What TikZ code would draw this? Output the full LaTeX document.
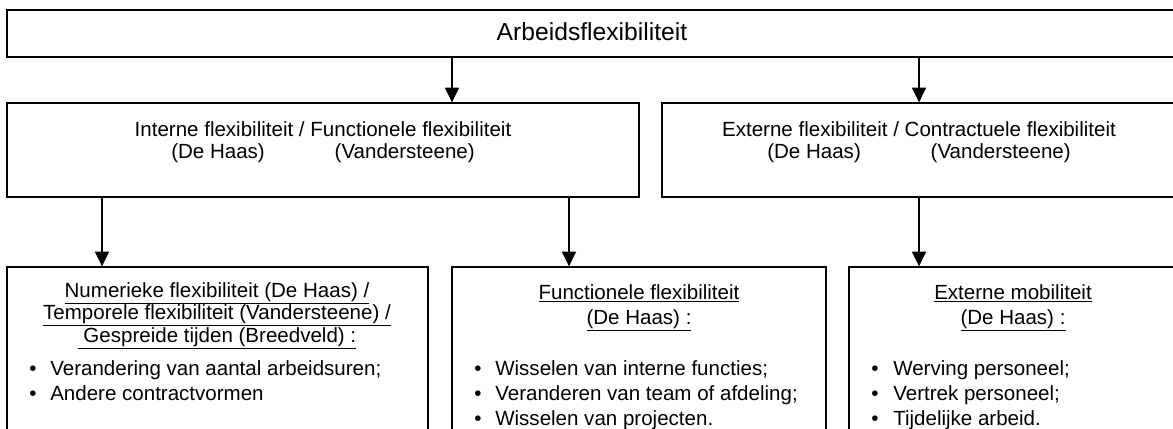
\documentclass[tikz,border=0pt]{standalone}
\usepackage{fontspec}
\setmainfont{Liberation Sans}
\usetikzlibrary{arrows.meta,fit}
\begin{document}
\begin{tikzpicture}[x=0.75pt,y=-0.75pt,
  box/.style={draw=black,line width=1pt,inner sep=0pt},
  arr/.style={line width=1pt,-{Triangle[width=10.5pt,length=11pt]}},
  body/.style={font=\fontsize{15.4}{17.7}\selectfont,anchor=base,inner sep=0pt},
  item/.style={body,anchor=base west},
  titletext/.style={font=\fontsize{18.5}{22}\selectfont,anchor=base,inner sep=0pt}]
\useasboundingbox (0,0) rectangle (1173,428);
\fill[white] (0,0) rectangle (1173,428);
\clip (0,0) rectangle (1173,428);
% boxes
\node[box,fit={(7,10) (1177,57)}] (top) {};
\node[box,fit={(7,103) (639,197)}] (midL) {};
\node[box,fit={(662,103) (1177,197)}] (midR) {};
\node[box,fit={(7,267) (428,470)}] (botL) {};
\node[box,fit={(452,267) (826,470)}] (botM) {};
\node[box,fit={(849,267) (1177,470)}] (botR) {};
% texts
\node[titletext] (t0) at (592,41) {Arbeidsflexibiliteit};
\node[body] (tL1) at (323,136) {Interne flexibiliteit / Functionele flexibiliteit};
\node[body] (tL2) at (323,158) {(De Haas)\hspace{3.4em}(Vandersteene)};
\node[body] (tR1) at (919,136) {Externe flexibiliteit / Contractuele flexibiliteit};
\node[body] (tR2) at (919,158) {(De Haas)\hspace{3.4em}(Vandersteene)};
% bottom left
\node[body] (hL1) at (217,297) {\underline{Numerieke flexibiliteit (De Haas) /}};
\node[body] (hL2) at (217,319.5) {\underline{Temporele flexibiliteit (Vandersteene) /}};
\node[body] (hL3) at (217,342) {\underline{\ Gespreide tijden (Breedveld) :}};
\node[body] (dL1) at (33,375) {\textbullet};
\node[item] (iL1) at (50,375) {Verandering van aantal arbeidsuren;};
\node[body] (dL2) at (33,400) {\textbullet};
\node[item] (iL2) at (50,400) {Andere contractvormen};
% bottom middle
\node[body] (hM1) at (639,299) {\underline{Functionele flexibiliteit}};
\node[body] (hM2) at (639,324) {\underline{(De Haas) :}};
\node[body] (dM1) at (478,375) {\textbullet};
\node[item] (iM1) at (495,375) {Wisselen van interne functies;};
\node[body] (dM2) at (478,400) {\textbullet};
\node[item] (iM2) at (495,400) {Veranderen van team of afdeling;};
\node[body] (dM3) at (478,425) {\textbullet};
\node[item] (iM3) at (495,425) {Wisselen van projecten.};
% bottom right
\node[body] (hR1) at (1013,299) {\underline{Externe mobiliteit}};
\node[body] (hR2) at (1013,324) {\underline{(De Haas) :}};
\node[body] (dR1) at (875,375) {\textbullet};
\node[item] (iR1) at (893,375) {Werving personeel;};
\node[body] (dR2) at (875,400) {\textbullet};
\node[item] (iR2) at (893,400) {Vertrek personeel;};
\node[body] (dR3) at (875,425) {\textbullet};
\node[item] (iR3) at (893,425) {Tijdelijke arbeid.};
% arrows
\coordinate (a1) at (452,0);
\coordinate (a2) at (919,0);
\coordinate (a3) at (102,0);
\coordinate (a4) at (569,0);
\draw[arr] (top.south -| a1) -- (midL.north -| a1);
\draw[arr] (top.south -| a2) -- (midR.north -| a2);
\draw[arr] (midL.south -| a3) -- (botL.north -| a3);
\draw[arr] (midL.south -| a4) -- (botM.north -| a4);
\draw[arr] (midR.south -| a2) -- (botR.north -| a2);
\end{tikzpicture}
\end{document}
